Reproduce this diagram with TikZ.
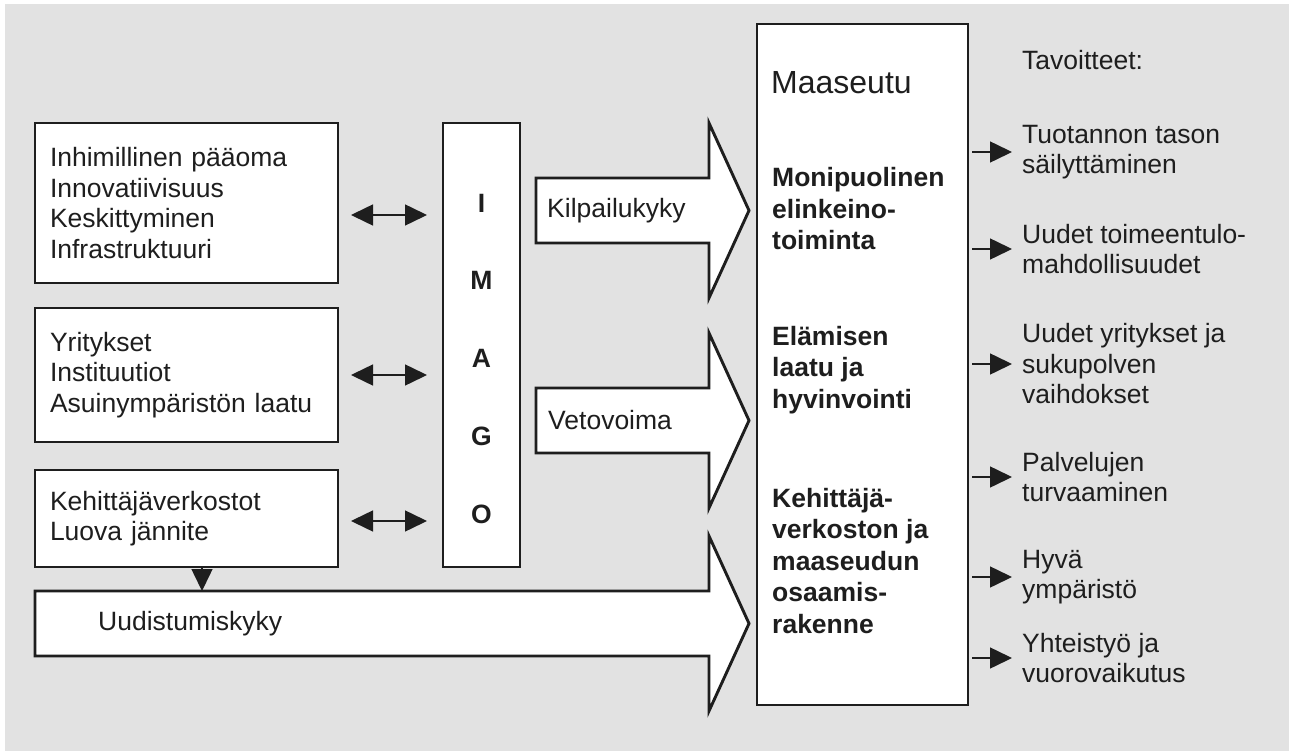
\documentclass[tikz,border=0pt]{standalone}
\usepackage{fontspec}
\setmainfont{Liberation Sans}
\usepackage{tikz}
\usetikzlibrary{arrows.meta,calc}

\definecolor{bggray}{HTML}{E2E2E2}
\definecolor{ink}{HTML}{1E1E1E}

\tikzset{
	box/.style={draw=ink, line width=2.9pt, fill=white, inner sep=0pt, outer sep=0pt},
	txt/.style={text=ink, font=\fontsize{26.5}{30.5}\selectfont, align=left, inner sep=0pt},
	bold/.style={text=ink, font=\fontsize{26.5}{31.5}\selectfont\bfseries, align=left, inner sep=0pt},
	blockarr/.style={draw=ink, line width=2.9pt, fill=white, line join=miter},
	arr/.style={draw=ink, line width=1.5pt, -{Triangle[length=22pt,width=21pt]}},
	dblarr/.style={draw=ink, line width=1.5pt, {Triangle[length=22pt,width=21pt]}-{Triangle[length=22pt,width=21pt]}}
}

\begin{document}
\begin{tikzpicture}[x=1pt, y=-1pt]
	\newcommand\bw{32.5}  % half body of a block arrow
	\newcommand\hw{87.5}  % half head
	\newcommand\hx{709}   % head base
	\newcommand\tx{749}   % tip
	\newcommand\ky{210.5}
	\newcommand\vy{420.5}
	\newcommand\uy{623.5}

	\useasboundingbox (0,0) rectangle (1289,751);
	\fill[bggray] (5,4) rectangle (1289,751);

	% left boxes
	\node[box, txt, inner xsep=15pt, anchor=north west, minimum width=303pt, minimum height=160pt, text width=273pt] (inhim) at (35,123) {Inhimillinen pääoma\\Innovatiivisuus\\Keskittyminen\\Infrastruktuuri};
	\node[box, txt, inner xsep=15pt, anchor=north west, minimum width=303pt, minimum height=134pt, text width=273pt] (yrit) at (35,308) {Yritykset\\Instituutiot\\Asuinympäristön laatu};
	\node[box, txt, inner xsep=15pt, anchor=north west, minimum width=303pt, minimum height=97pt, text width=273pt] (kehit) at (35,470) {Kehittäjäverkostot\\Luova jännite};

	% IMAGO
	\node[box, anchor=north west, minimum width=77pt, minimum height=444pt] (imago) at (443,123) {};
	\foreach \ch [count=\i] in {I,M,A,G,O}
		\node[bold] (imago\i) at ($(imago.north)+(0,{80+(\i-1)*77.75})$) {\ch};

	\draw[dblarr] ($(inhim.east)+(13,12)$) -- ($(imago.west |- inhim.east)+(-16,12)$);
	\draw[dblarr] ($(yrit.east)+(13,0)$) -- ($(imago.west |- yrit.east)+(-16,0)$);
	\draw[dblarr] ($(kehit.east)+(13,2.5)$) -- ($(imago.west |- kehit.east)+(-16,2.5)$);

	% block arrows
	\draw[blockarr] (536,\ky-\bw) -- (\hx,\ky-\bw) -- (\hx,\ky-\hw) -- (\tx,\ky) -- (\hx,\ky+\hw) -- (\hx,\ky+\bw) -- (536,\ky+\bw) -- cycle;
	\node[txt, anchor=west] (kilp) at (547,\ky) {Kilpailukyky};
	\draw[blockarr] (536,\vy-\bw) -- (\hx,\vy-\bw) -- (\hx,\vy-\hw) -- (\tx,\vy) -- (\hx,\vy+\hw) -- (\hx,\vy+\bw) -- (536,\vy+\bw) -- cycle;
	\node[txt, anchor=west] (veto) at (548,\vy) {Vetovoima};
	\draw[blockarr] (35,\uy-\bw) -- (\hx,\uy-\bw) -- (\hx,\uy-\hw) -- (\tx,\uy) -- (\hx,\uy+\hw) -- (\hx,\uy+\bw) -- (35,\uy+\bw) -- cycle;
	\node[txt, anchor=west] (uudist) at (98,\uy) {Uudistumiskyky};
	\coordinate (uudtop) at (202,\uy-\bw);
	\draw[arr] (kehit.south -| uudtop) -- (uudtop);

	% Maaseutu
	\node[box, anchor=north west, minimum width=211pt, minimum height=681pt] (maaseutu) at (757,24) {};
	\node[txt, font=\fontsize{32}{36}\selectfont, anchor=west] (maaslbl) at (771,83) {Maaseutu};
	\node[bold, anchor=west] (elink) at (772,209) {Monipuolinen\\elinkeino-\\toiminta};
	\node[bold, anchor=west] (elama) at (772,370) {Elämisen\\laatu ja\\hyvinvointi};
	\node[bold, anchor=west] (osaam) at (772,561) {Kehittäjä-\\verkoston ja\\maaseudun\\osaamis-\\rakenne};

	% goals
	\node[txt, anchor=west] (tavoit) at (1022,60) {Tavoitteet:};
	\node[txt, anchor=west] (g1) at (1022,152) {Tuotannon tason\\säilyttäminen};
	\node[txt, anchor=west] (g2) at (1022,249) {Uudet toimeentulo-\\mahdollisuudet};
	\node[txt, anchor=west] (g3) at (1022,364) {Uudet yritykset ja\\sukupolven\\vaihdokset};
	\node[txt, anchor=west] (g4) at (1022,477) {Palvelujen\\turvaaminen};
	\node[txt, anchor=west] (g5) at (1022,577) {Hyvä\\ympäristö};
	\node[txt, anchor=west] (g6) at (1022,658) {Yhteistyö ja\\vuorovaikutus};
	\foreach \g in {g1,g2,g3,g4,g5,g6}
		\draw[arr] ($(maaseutu.east |- \g.west)+(4,0)$) -- ($(\g.west)+(-10,0)$);
\end{tikzpicture}
\end{document}
